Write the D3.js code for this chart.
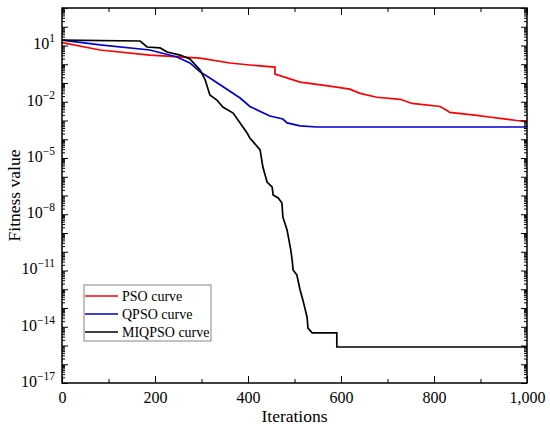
<!DOCTYPE html>
<html>
<head>
<meta charset="utf-8">
<script src="https://d3js.org/d3.v7.min.js"></script>
<style>
  body { margin: 0; background: #fff; }
  svg text { font-family: "Liberation Serif", "Times New Roman", "DejaVu Serif", serif; fill: #000; }
</style>
</head>
<body>
<svg width="550" height="431"></svg>
<script>
// Iterations and fitness values
const psoIter = [0, 82, 189, 297, 361, 404, 458, 458, 512, 576, 619, 641, 677, 727, 753, 813, 828, 834, 892, 927, 942, 978, 1000];
const psoVal  = [14.1, 5.75, 3.09, 2.14, 1.17, 0.91, 0.71, 0.30, 0.112, 0.068, 0.047, 0.028, 0.0174, 0.0135, 0.0081, 0.0056, 0.0034, 0.0027, 0.00186, 0.00145, 0.00129, 0.0010, 0.00089];

const qpsoIter = [0, 82, 189, 247, 275, 297, 318, 383, 404, 447, 475, 484, 512, 548, 1000];
const qpsoVal  = [19.5, 10.7, 5.75, 2.45, 1.17, 0.39, 0.186, 0.0158, 0.0056, 0.00174, 0.0012, 0.00074, 0.00052, 0.00045, 0.00045];

const miqIter = [0, 168, 183, 211, 226, 254, 275, 297, 308, 318, 333, 346, 368, 383, 398, 404, 426, 432, 441, 452, 454, 465, 473, 475, 484, 488, 492, 495, 497, 505, 512, 518, 527, 529, 538, 591, 591, 1000];
const miqVal  = [19.5, 17.4, 8.3, 7.4, 4.47, 3.09, 1.9, 0.49, 0.145, 0.0229, 0.0123, 0.0052, 0.0025, 0.00074, 2.14e-4, 1.17e-4, 2.7e-5, 3.3e-6, 5.2e-7, 2.8e-7, 1.07e-7, 7.4e-8, 4.0e-8, 7.1e-9, 1.45e-9, 4.3e-10, 1.23e-10, 3.6e-11, 1.07e-11, 5.8e-12, 9.1e-13, 2.7e-13, 3.3e-14, 8.5e-15, 4.7e-15, 4.7e-15, 8.3e-16, 8.3e-16];

const xMajor = [0, 200, 400, 600, 800, 1000];
const xMinor = [100, 300, 500, 700, 900];
const yLabelExp = [1, -2, -5, -8, -11, -14, -17];

const series = [
  { name: "PSO curve",    color: "#ff0000", iter: psoIter,  val: psoVal },
  { name: "QPSO curve",   color: "#0000d0", iter: qpsoIter, val: qpsoVal },
  { name: "MIQPSO curve", color: "#000000", iter: miqIter,  val: miqVal }
];

const svg = d3.select("svg");
const plot = { left: 62, right: 527, top: 8, bottom: 383 };
const serif = "Liberation Serif, Times New Roman, serif";

const x = d3.scaleLinear().domain([0, 1000]).range([plot.left, plot.right]);
const y = d3.scaleLog().domain([1e-17, 1e3]).range([plot.bottom, plot.top]);

// decade ticks and minor (2..9) ticks
const decades = d3.range(-17, 4).map(e => Math.pow(10, e));
const yMinor = [];
decades.slice(0, -1).forEach(d => { for (let k = 2; k <= 9; k++) yMinor.push(d * k); });

// curves
const line = d3.line().x(d => x(d[0])).y(d => y(d[1]));
series.forEach(s => {
  svg.append("path")
    .datum(s.iter.map((it, i) => [it, s.val[i]]))
    .attr("fill", "none")
    .attr("stroke", s.color)
    .attr("stroke-width", 1.7)
    .attr("d", line);
});

// axes, ticks pointing inward
function styleAxis(g) {
  g.attr("font-family", serif);
  g.select(".domain").remove();
  g.selectAll(".tick line").attr("stroke", "#000").attr("stroke-width", 1);
}

svg.append("g").attr("transform", `translate(0,${plot.bottom})`)
  .call(d3.axisBottom(x).tickValues(xMajor).tickSize(-7).tickPadding(9).tickFormat(d3.format(",")))
  .call(styleAxis)
  .selectAll("text").attr("font-size", 16);
svg.append("g").attr("transform", `translate(0,${plot.bottom})`)
  .call(d3.axisBottom(x).tickValues(xMinor).tickSize(-4).tickFormat(""))
  .call(styleAxis);
svg.append("g").attr("transform", `translate(0,${plot.top})`)
  .call(d3.axisTop(x).tickValues(xMajor).tickSize(-7).tickFormat(""))
  .call(styleAxis);
svg.append("g").attr("transform", `translate(0,${plot.top})`)
  .call(d3.axisTop(x).tickValues(xMinor).tickSize(-4).tickFormat(""))
  .call(styleAxis);

const yAxisG = svg.append("g").attr("transform", `translate(${plot.left},0)`)
  .call(d3.axisLeft(y).tickValues(decades).tickSize(-6).tickFormat(""))
  .call(styleAxis);
svg.append("g").attr("transform", `translate(${plot.left},0)`)
  .call(d3.axisLeft(y).tickValues(yMinor).tickSize(-3).tickFormat(""))
  .call(styleAxis);
svg.append("g").attr("transform", `translate(${plot.right},0)`)
  .call(d3.axisRight(y).tickValues(decades).tickSize(-6).tickFormat(""))
  .call(styleAxis);
svg.append("g").attr("transform", `translate(${plot.right},0)`)
  .call(d3.axisRight(y).tickValues(yMinor).tickSize(-3).tickFormat(""))
  .call(styleAxis);

// power-of-ten labels
yAxisG.selectAll(".tick").each(function(d) {
  const e = Math.round(Math.log10(d));
  if (!yLabelExp.includes(e)) return;
  const t = d3.select(this).select("text")
    .attr("x", -7).attr("dy", "0.33em").attr("text-anchor", "end").text(null);
  t.append("tspan").attr("font-size", 16).text("10");
  t.append("tspan").attr("font-size", 11.5).attr("dy", "-0.6em")
    .text(e < 0 ? "\u2212" + (-e) : String(e));
});

// frame
svg.append("rect")
  .attr("x", plot.left).attr("y", plot.top)
  .attr("width", plot.right - plot.left).attr("height", plot.bottom - plot.top)
  .attr("fill", "none").attr("stroke", "#000").attr("stroke-width", 1.5);

// axis titles
svg.append("text")
  .attr("text-anchor", "middle")
  .attr("transform", `translate(20,${(plot.top + plot.bottom) / 2}) rotate(-90)`)
  .attr("font-size", 17.5)
  .text("Fitness value");
svg.append("text")
  .attr("text-anchor", "middle")
  .attr("x", (plot.left + plot.right) / 2).attr("y", 422)
  .attr("font-size", 17.5)
  .text("Iterations");

// legend
const lg = svg.append("g").attr("transform", "translate(84,285)");
lg.append("rect").attr("width", 127).attr("height", 56)
  .attr("fill", "#fff").attr("stroke", "#666").attr("stroke-width", 0.8);
series.forEach((s, i) => {
  const yy = 11 + i * 18;
  lg.append("line").attr("x1", 1).attr("x2", 34).attr("y1", yy).attr("y2", yy)
    .attr("stroke", s.color).attr("stroke-width", 1.7);
  lg.append("text").attr("x", 38).attr("y", yy).attr("dy", "0.33em")
    .attr("font-size", 14).text(s.name);
});
</script>
</body>
</html>
